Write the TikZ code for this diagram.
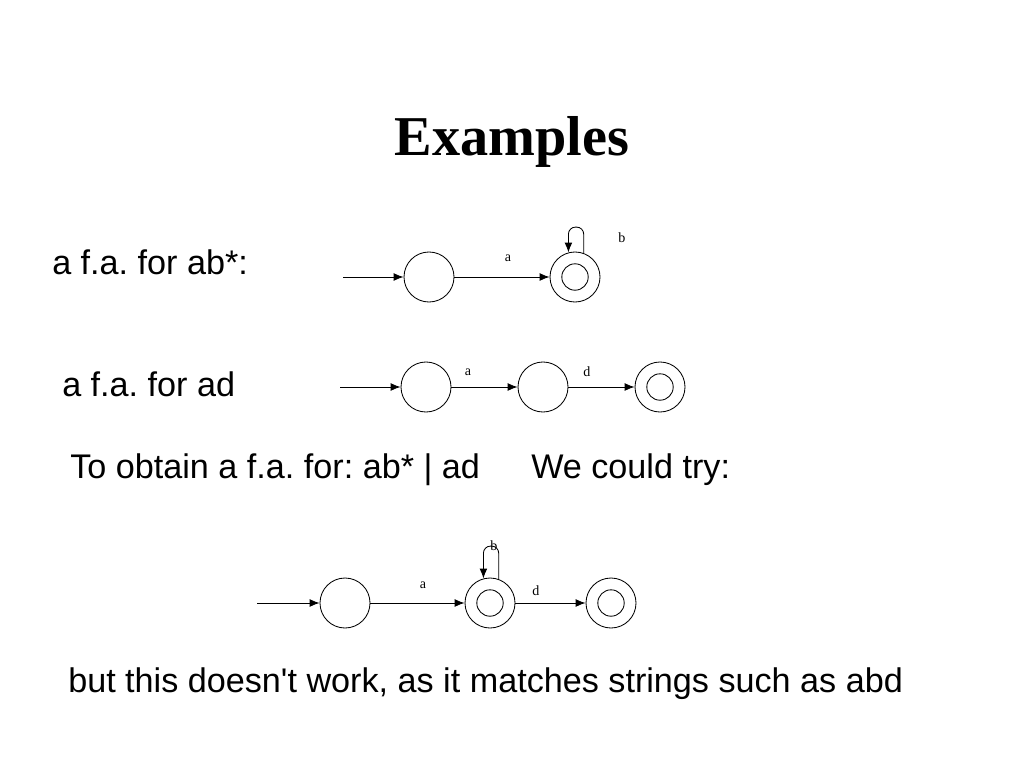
\documentclass[tikz,border=0pt]{standalone}
\usepackage{fontspec}
\setmainfont{Liberation Sans}
\newfontfamily\seriffont{Liberation Serif}
\usetikzlibrary{arrows.meta,positioning}
\frenchspacing

\tikzset{
	state/.style={circle, draw, minimum size=1.25cm, inner sep=0pt, line width=0.6pt},
	accepting/.style={path picture={\draw[line width=0.6pt] (path picture bounding box.center) circle [radius=0.33cm];}},
	trans/.style={-{Latex[length=7pt,width=5.5pt]}, line width=0.6pt},
	lbl/.style={font=\seriffont\fontsize{10}{12}\selectfont, inner sep=0pt},
	txt/.style={anchor=base west, inner sep=0pt, font=\fontsize{24.3}{28}\selectfont}
}

\begin{document}
\begin{tikzpicture}[x=0.025cm, y=-0.025cm]
			\useasboundingbox (0,0) rectangle (1024,768);
			\node[anchor=base, inner sep=0pt, font=\seriffont\bfseries\fontsize{40}{48}\selectfont] (title) at (512,155) {Examples};
			
			% ab*
			\node[txt] (t1) at (52,274) {a f.a. for ab*:};
			\coordinate (s1) at (343,277);
			\node[state] (p0) at (429,277) {};
			\node[state, accepting] (p1) at (575,277) {};
			\draw[trans] (s1) -- (p0);
			\draw[trans] (p0) -- (p1);
			\draw[trans, rounded corners=5] (p1.70) -- ++(0,-26) -| (p1.105);
			\node[lbl] (la1) at (508,258) {a};
			\node[lbl] (lb1) at (622,238) {b};
			
			% ad
			\node[txt] (t2) at (62,396) {a f.a. for ad};
			\coordinate (s2) at (340,387);
			\node[state] (q0) at (426,387) {};
			\node[state] (q1) at (543,387) {};
			\node[state, accepting] (q2) at (660,387) {};
			\draw[trans] (s2) -- (q0);
			\draw[trans] (q0) -- (q1);
			\draw[trans] (q1) -- (q2);
			\node[lbl] (la2) at (468,372) {a};
			\node[lbl] (ld2) at (587,372) {d};
			
			\node[txt] (t3) at (70,478) {To obtain a f.a. for: ab* | ad};
			\node[txt] (t4) at (531,478) {We could try:};
			
			% ab* | ad
			\coordinate (s3) at (257,603);
			\node[state] (r0) at (345,603) {};
			\node[state, accepting] (r1) at (490,603) {};
			\node[state, accepting] (r2) at (611,603) {};
			\draw[trans] (s3) -- (r0);
			\draw[trans] (r0) -- (r1);
			\draw[trans] (r1) -- (r2);
			\draw[trans, rounded corners=5] (r1.70) -- ++(0,-33) -| (r1.105);
			\node[lbl] (la3) at (423,585) {a};
			\node[lbl] (lb3) at (494,546) {b};
			\node[lbl] (ld3) at (536,591) {d};
			
			\node[txt] (t5) at (68,692) {but this doesn\textquotesingle t work, as it matches strings such as abd};
\end{tikzpicture}
\end{document}
